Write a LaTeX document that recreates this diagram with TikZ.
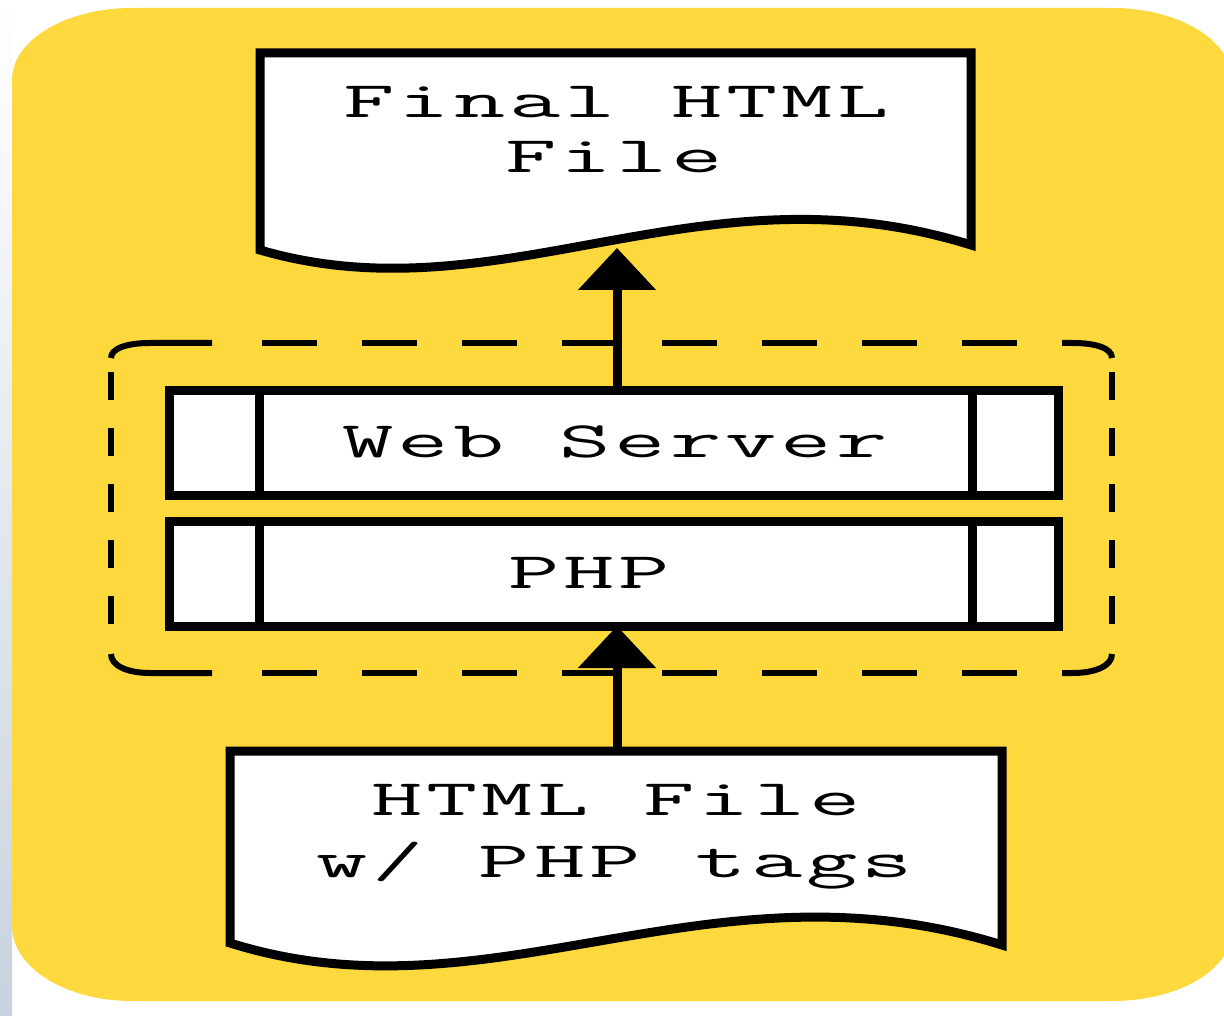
\documentclass[tikz,border=0pt]{standalone}
\usepackage{fontspec}
\newfontfamily\boxfont{lmmono12-regular.otf}[FakeStretch=1.95,LetterSpace=8]
\usetikzlibrary{arrows.meta}
\definecolor{paneyellow}{RGB}{253,217,61}
\definecolor{stripblue}{RGB}{200,210,222}

\begin{document}
\begin{tikzpicture}[x=1pt,y=-1pt,
                doc shape/.style={draw,fill=white,line width=9pt,line join=miter},
                proc box/.style={draw,fill=white,line width=9pt,minimum width=889pt,minimum height=105pt,inner sep=0pt,outer sep=0pt},
                box text/.style={font=\boxfont\fontsize{51pt}{55pt}\selectfont,inner sep=0pt,anchor=base},
                flow arrow/.style={line width=9pt,-{Triangle[length=42pt,width=76pt]}},
                frame dash/.style={line width=6pt},
                ]
                \useasboundingbox (0,0) rectangle (1224,1016);
                \fill[white] (0,0) rectangle (1224,1016);
                \shade[top color=white,bottom color=stripblue] (0,0) rectangle (12,1016);
                \fill[paneyellow] (12,80) .. controls (12,40) and (66,8) .. (132,8) -- (1112,8)
                    .. controls (1178,8) and (1232,40) .. (1232,80) -- (1232,930)
                    .. controls (1232,970) and (1178,1001) .. (1112,1001) -- (132,1001)
                    .. controls (66,1001) and (12,968) .. (12,926) -- cycle;

                \draw[frame dash] (111,358) .. controls (111,348) and (128,343) .. (150,343) -- (212,343);
                \draw[frame dash] (1112,358) .. controls (1112,348) and (1095,343) .. (1073,343) -- (1062,343);
                \draw[frame dash] (111,654) .. controls (111,666) and (128,673) .. (150,673) -- (212,673);
                \draw[frame dash] (1112,654) .. controls (1112,666) and (1095,673) .. (1073,673) -- (1062,673);
                \foreach \x in {262,362,...,962} {
                    \draw[frame dash] (\x,343) -- ++(55,0);
                    \draw[frame dash] (\x,673) -- ++(55,0);
                }
                \foreach \y in {372,428,...,598} {
                    \draw[frame dash] (111,\y) -- ++(0,28);
                    \draw[frame dash] (1112,\y) -- ++(0,28);
                }

                \draw[doc shape] (260,53) -- (971,53) -- (971,245)
                    .. controls (700,160) and (500,320) .. (260,250) -- cycle;
                \draw[doc shape] (230,751) -- (1002,751) -- (1002,945)
                    .. controls (708,853) and (492,1025) .. (230,943) -- cycle;

                \node[box text] (final1) at (616,118) {Final HTML};
                \node[box text] (final2) at (614,173) {File};
                \node[box text] (source1) at (616,815) {HTML File};
                \node[box text] (source2) at (615,877) {w/ PHP tags};

                \node[proc box] (server) at (613.5,442.5) {};
                \node[proc box] (php) at (613.5,573.5) {};
                \foreach \n in {server,php} {
                    \draw[line width=9pt] ([xshift=90pt]\n.north west) -- ([xshift=90pt]\n.south west);
                    \draw[line width=9pt] ([xshift=-86pt]\n.north east) -- ([xshift=-86pt]\n.south east);
                }
                \node[box text] (serverlabel) at (615,457) {Web Server};
                \node[box text] (phplabel) at (589,588) {PHP};

                \coordinate (finalin) at (617,248);
                \coordinate (sourceout) at (617,751);
                \draw[flow arrow] (server.north -| finalin) -- (finalin);
                \draw[flow arrow] (sourceout) -- (php.south -| sourceout);
            \end{tikzpicture}
\end{document}
